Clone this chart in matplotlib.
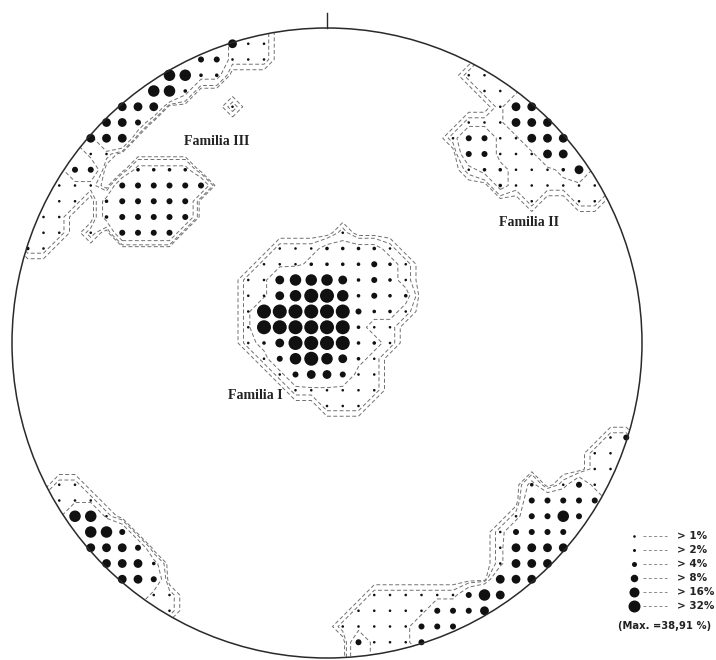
import numpy as np
import matplotlib.pyplot as plt
from matplotlib.patches import Circle

# pole density classes on the counting grid (step = radius / 20)
# each entry: (row j, first column i, class per node), class 1..6 = >1% .. >32%, 0 = empty
familia_1 = [(7, 1, "1"), (6, -3, "11122221"), (5, -4, "1112222321"),
             (4, -5, "11455542321"), (3, -5, "11456652322"), (2, -5, "16666663221"),
             (1, -5, "1666666211"), (0, -5, "1246666221"), (-1, -4, "13565421"),
             (-2, -3, "1344311"), (-3, -2, "111111"), (-4, 0, "111")]
familia_2 = [(17, 9, "11"), (16, 10, "11"), (15, 11, "144"), (14, 9, "111444"),
             (13, 8, "13311444"), (12, 9, "3311144"), (11, 9, "12211124"),
             (10, 11, "2111111"), (9, 13, "10011")]
familia_3 = [(11, -12, "2222"), (10, -13, "333333"), (9, -14, "233333"),
             (8, -14, "233333"), (7, -13, "3333")]
band_nw = [(19, -6, "411"), (18, -8, "33111"), (17, -10, "5522"), (16, -11, "552"),
           (15, -13, "444"), (15, -6, "1"), (14, -14, "443"), (13, -15, "444"),
           (12, -15, "11"), (11, -16, "33"), (10, -17, "111"), (9, -17, "11"),
           (8, -18, "11"), (7, -18, "11"), (7, -15, "1"), (6, -19, "21")]
band_se = [(-6, 18, "13"), (-7, 17, "11"), (-8, 17, "11"), (-9, 13, "20131"),
           (-10, 13, "33333"), (-11, 12, "13353"), (-12, 11, "13333"),
           (-13, 11, "14444"), (-14, 11, "1444"), (-15, 11, "444"),
           (-16, 3, "111111354"), (-17, 2, "111113334"), (-18, 1, "11111333"),
           (-19, 2, "31113")]
band_sw = [(-9, -17, "11"), (-10, -17, "111"), (-11, -16, "551"), (-12, -15, "553"),
           (-13, -15, "4443"), (-14, -14, "4442"), (-15, -13, "443"),
           (-16, -11, "11"), (-17, -10, "1")]

legend_labels = ['> 1%', '> 2%', '> 4%', '> 8%', '> 16%', '> 32%']
max_label = '(Max. =38,91 %)'

# dot diameter (px) for each class, on the net and in the legend
dot_px = [0, 2.6, 3.6, 6.0, 8.8, 11.5, 14.0]
leg_px = [0, 2.6, 3.0, 5.0, 7.5, 10.0, 12.0]

N = 20
grid = np.zeros((2 * N + 1, 2 * N + 1))
for rows in [familia_1, familia_2, familia_3, band_nw, band_se, band_sw]:
    for j, i0, s in rows:
        for k, ch in enumerate(s):
            grid[j + N, i0 + k + N] = int(ch)

# figure in pixel-like units: circle centre (327, 343), radius 315 px
W, H, CX, CY, R = 716, 660, 327, 343, 315
fig = plt.figure(figsize=(W / 100, H / 100), dpi=100)
ax = fig.add_axes([0, 0, 1, 1])
ax.set_xlim(-CX / R, (W - CX) / R)
ax.set_ylim((CY - H) / R, CY / R)
ax.set_aspect('equal')
ax.axis('off')

def px(x, y):
    return (x - CX) / R, (CY - y) / R

circ = Circle((0, 0), 1, fill=False, ec='#2a2a2a', lw=1.1, zorder=5)
ax.add_patch(circ)
ax.plot([0, 0], [1.0, 1.0 + 15 / R], color='#2a2a2a', lw=1.0)

# contour field: nodes outside the net take the value just inside the rim
ii, jj = np.meshgrid(np.arange(-N, N + 1), np.arange(-N, N + 1))
rr = np.hypot(ii, jj)
field = grid.copy()
out = rr > N - 0.4
si = np.round(ii * (N - 1) / np.maximum(rr, 1e-9)).astype(int)
sj = np.round(jj * (N - 1) / np.maximum(rr, 1e-9)).astype(int)
field[out] = grid[sj[out] + N, si[out] + N]

X = ii / N
Y = jj / N
cs = ax.contour(X, Y, field, levels=[0.35, 0.7, 1.5], colors='#707070',
                linewidths=0.7, linestyles=[(0, (4, 2.5))])
cs.set_clip_path(Circle((0, 0), 1, transform=ax.transData))

mask = grid > 0
cls = grid[mask].astype(int)
sizes = (np.array(dot_px)[cls] * 0.72) ** 2
ax.scatter(X[mask], Y[mask], s=sizes, c='#111111', linewidths=0, zorder=4)

lab = dict(family=['Liberation Serif', 'DejaVu Serif'], fontweight='bold',
           fontsize=10, color='#222222', ha='center', va='center')
ax.text(*px(255, 396), 'Familia I', **lab)
ax.text(*px(529, 223), 'Familia II', **lab)
ax.text(*px(217, 142), 'Familia III', **lab)

# legend
leg_y = [536, 550, 564, 578, 592, 606]
for k, (yy, txt) in enumerate(zip(leg_y, legend_labels)):
    d = leg_px[k + 1] * 0.72
    ax.scatter(*px(634, yy), s=d ** 2, c='#111111', linewidths=0)
    x0, y0 = px(643, yy)
    x1, _ = px(667, yy)
    ax.plot([x0, x1], [y0, y0], color='#888888', lw=0.7, ls=(0, (3, 2.5)))
    ax.text(*px(677, yy), txt, fontsize=7.5, fontweight='bold', color='#222222',
            ha='left', va='center')
ax.text(*px(665, 626), max_label, fontsize=7.2, fontweight='bold', color='#222222',
        ha='center', va='center')

fig.savefig('out.png', dpi=100, facecolor='white')
